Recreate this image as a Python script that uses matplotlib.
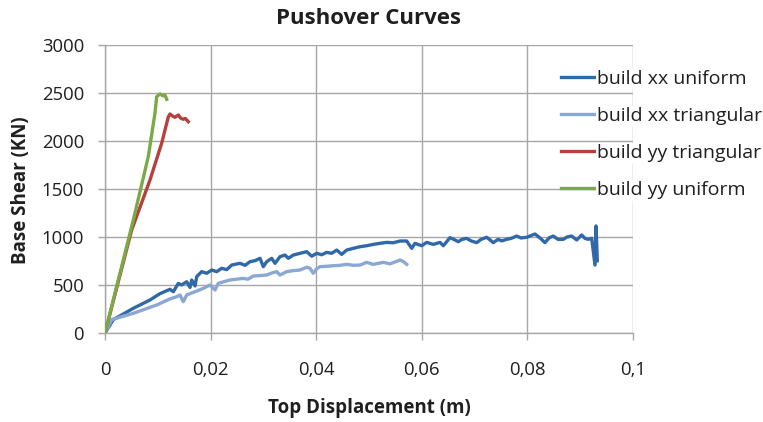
import matplotlib
matplotlib.use("Agg")
import matplotlib.pyplot as plt

# ---------------- data ----------------
title = "Pushover Curves"
x_label = "Top Displacement (m)"
y_label = "Base Shear (KN)"
x_ticks = [0, 0.02, 0.04, 0.06, 0.08, 0.1]
x_tick_labels = ["0", "0,02", "0,04", "0,06", "0,08", "0,1"]
y_ticks = [0, 500, 1000, 1500, 2000, 2500, 3000]
y_tick_labels = ["0", "500", "1000", "1500", "2000", "2500", "3000"]

series_names = ["build xx uniform", "build xx triangular",
                "build yy triangular", "build yy uniform"]

xx_uniform_d = [0, 0.00157, 0.00536, 0.00852, 0.01042, 0.01231, 0.01294, 0.01388,
                0.01450, 0.01547, 0.0161, 0.01642, 0.01705, 0.01737, 0.01831, 0.01926,
                0.02021, 0.02116, 0.0221, 0.02305, 0.024, 0.02557, 0.02652, 0.02746,
                0.02841, 0.02936, 0.02998, 0.03063, 0.03157, 0.0322, 0.03314, 0.03409,
                0.03472, 0.03566, 0.03693, 0.0382, 0.03915, 0.0401, 0.04104, 0.04199,
                0.04294, 0.04388, 0.04483, 0.04578, 0.04703, 0.0483, 0.04956, 0.05081,
                0.05208, 0.05335, 0.0546, 0.05587, 0.05714, 0.05809, 0.05871, 0.05998,
                0.06093, 0.06218, 0.06345, 0.06407, 0.06534, 0.06629, 0.06691, 0.0676,
                0.06851, 0.06932, 0.0704, 0.07121, 0.07229, 0.07292, 0.07354, 0.07443,
                0.07519, 0.07608, 0.0769, 0.07797, 0.07879, 0.07987, 0.08068, 0.08144,
                0.08239, 0.08333, 0.08409, 0.0849, 0.0858, 0.0868, 0.0875, 0.08839,
                0.08934, 0.09028, 0.09091, 0.09153, 0.09218, 0.0928, 0.0930, 0.09324]
xx_uniform_v = [0, 139, 257, 344, 410, 455, 430, 517,
                500, 534, 475, 552, 490, 587, 639, 622,
                656, 639, 674, 660, 708, 726, 705, 743,
                753, 778, 691, 743, 778, 726, 795, 812,
                778, 812, 830, 847, 800, 830, 815, 840,
                830, 864, 819, 864, 882, 899, 909, 923,
                934, 944, 940, 958, 958, 882, 934, 909,
                944, 923, 944, 909, 993, 969, 951, 975,
                986, 960, 941, 975, 997, 970, 941, 975,
                960, 976, 985, 1010, 990, 997, 1015, 1031,
                990, 941, 990, 1010, 975, 976, 1000, 1010,
                969, 1021, 985, 976, 986, 708, 1115, 753]

xx_tri_d = [0, 0.00127, 0.00536, 0.00979, 0.01231, 0.01358, 0.0142, 0.01483,
            0.01547, 0.01705, 0.01862, 0.01989, 0.02083, 0.02146, 0.02254, 0.02367,
            0.02481, 0.02619, 0.02708, 0.02809, 0.02936, 0.03063, 0.03157, 0.03252,
            0.03314, 0.03441, 0.03566, 0.03693, 0.0382, 0.03883, 0.03945, 0.0401,
            0.04072, 0.04199, 0.04324, 0.04451, 0.04578, 0.04703, 0.0483, 0.04956,
            0.05081, 0.05271, 0.05398, 0.05587, 0.0565, 0.05714]
xx_tri_v = [0, 139, 205, 292, 355, 378, 396, 326,
            396, 430, 465, 500, 448, 517, 535, 552,
            560, 569, 560, 594, 598, 604, 625, 639,
            604, 639, 650, 656, 685, 674, 622, 670,
            691, 695, 701, 705, 715, 705, 708, 736,
            715, 736, 720, 760, 745, 715]

yy_tri_d = [0, 0.00505, 0.00852, 0.01073, 0.0120, 0.01231, 0.0128, 0.01326,
            0.0139, 0.0143, 0.01483, 0.0152, 0.01578]
yy_tri_v = [0, 1073, 1594, 1976, 2253, 2281, 2260, 2247,
            2271, 2240, 2226, 2235, 2201]

yy_uni_d = [0, 0.00536, 0.0082, 0.00947, 0.00979, 0.01042, 0.01098, 0.01136, 0.01169]
yy_uni_v = [0, 1177, 1837, 2292, 2462, 2490, 2470, 2479, 2434]

colors = ["#3169A8", "#8BA7D3", "#B5403D", "#7AAA46"]

# ---------------- plot ----------------
plt.rcParams['font.family'] = ['Open Sans', 'DejaVu Sans']
text_color = "#1f1f1f"
grid_color = "#A6A6A6"

fig = plt.figure(figsize=(7.63, 4.22), dpi=100)
ax = fig.add_axes([105/763, 1 - 333/422, (633 - 105)/763, (333 - 45)/422])

ax.plot(xx_uniform_d, xx_uniform_v, color=colors[0], lw=2.4, label=series_names[0],
        solid_joinstyle='round', zorder=3)
ax.plot(xx_tri_d, xx_tri_v, color=colors[1], lw=2.4, label=series_names[1],
        solid_joinstyle='round', zorder=3)
ax.plot(yy_tri_d, yy_tri_v, color=colors[2], lw=2.4, label=series_names[2],
        solid_joinstyle='round', zorder=3)
ax.plot(yy_uni_d, yy_uni_v, color=colors[3], lw=2.4, label=series_names[3],
        solid_joinstyle='round', zorder=3)

ax.set_xlim(0, 0.1)
ax.set_ylim(0, 3000)
ax.set_xticks(x_ticks)
ax.set_xticklabels(x_tick_labels)
ax.set_yticks(y_ticks)
ax.set_yticklabels(y_tick_labels)

ax.grid(True, color=grid_color, lw=1.0, zorder=0)
ax.set_axisbelow(True)
for s in ["top", "right"]:
    ax.spines[s].set_visible(False)
for s in ["left", "bottom"]:
    ax.spines[s].set_color(grid_color)
    ax.spines[s].set_linewidth(1.0)
ax.tick_params(axis='both', direction='out', length=5, width=1.0, color=grid_color,
               labelsize=13.3, labelcolor=text_color)
ax.tick_params(axis='y', pad=10)
ax.tick_params(axis='x', pad=15)

fig.text(369/763, 1 - 18/422, title, ha='center', va='center', fontsize=16,
         fontweight='bold', color=text_color)
fig.text(369/763, 1 - 408/422, x_label, ha='center', va='center', fontsize=13.5,
         fontweight='bold', color=text_color)
fig.text(21/763, 1 - 190/422, y_label, ha='center', va='center', fontsize=13.5,
         fontweight='bold', color=text_color, rotation=90)

leg = ax.legend(loc='upper left', bbox_to_anchor=(561/763, 1 - 70/422),
                bbox_transform=fig.transFigure, frameon=False, fontsize=14,
                handlelength=1.7, handletextpad=0.15, labelspacing=0.98,
                borderpad=0, borderaxespad=0)
for t in leg.get_texts():
    t.set_color(text_color)
    t.set_bbox(dict(facecolor='white', edgecolor='none', pad=1))
for h in leg.get_lines():
    h.set_linewidth(2.4)

fig.savefig("out.png", dpi=100)
